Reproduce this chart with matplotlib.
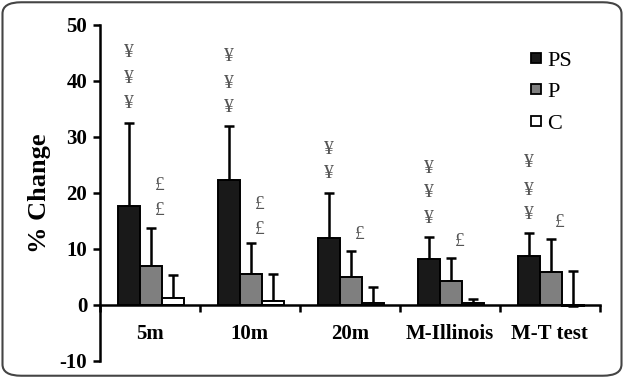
import numpy as np
import matplotlib
matplotlib.use("Agg")
import matplotlib.pyplot as plt
from matplotlib.patches import FancyBboxPatch
from matplotlib.lines import Line2D

plt.rcParams["font.family"] = ["Liberation Serif", "DejaVu Serif"]
plt.rcParams["axes.unicode_minus"] = False

categories = ["5m", "10m", "20m", "M-Illinois", "M-T test"]
ps_mean = [17.7, 22.3, 11.9, 8.2, 8.8]
ps_err = [14.8, 9.7, 8.1, 3.9, 4.1]
p_mean = [7.0, 5.5, 5.0, 4.2, 5.8]
p_err = [6.8, 5.6, 4.7, 4.2, 5.9]
c_mean = [1.2, 0.8, 0.4, 0.3, -0.2]
c_err = [4.1, 4.7, 2.8, 0.8, 6.3]

# y positions of significance marks above PS (¥) and P (£) bars
yen_pos = [[45.0, 40.4, 36.0], [44.3, 39.6, 35.2], [27.7, 23.4], [24.3, 20.0, 15.5], [25.4, 20.4, 16.1]]
pound_pos = [[21.4, 16.8], [17.9, 13.5], [12.5], [11.4], [14.8]]

fig = plt.figure(figsize=(6.24, 3.78), dpi=100)
ax = fig.add_axes([0.160, 0.045, 0.801, 0.889])

x = np.arange(1, len(categories) + 1)
w = 0.22
offs = [-0.22, 0.0, 0.22]
colors = ["#191919", "#7f7f7f", "white"]
labels = ["PS", "P", "C"]
means = [ps_mean, p_mean, c_mean]
errs = [ps_err, p_err, c_err]
for k in range(3):
    xe = x + offs[k] + 0.01
    ax.bar(xe, means[k], w, color=colors[k], edgecolor="black", linewidth=1.4,
           label=labels[k], zorder=2)
    ax.errorbar(xe, means[k], yerr=[np.zeros(5), errs[k]], fmt="none",
                ecolor="black", elinewidth=1.8, capsize=3.5, capthick=1.8, zorder=1)

for i in range(5):
    for yv in yen_pos[i]:
        ax.text(x[i] + offs[0] + 0.01, yv, "¥", ha="center", va="center",
                fontsize=14, color="#555555")
    for yv in pound_pos[i]:
        ax.text(x[i] + offs[1] + 0.1, yv, "£", ha="center", va="center",
                fontsize=14, color="#555555")

ax.set_xlim(0.5, 5.5)
ax.set_ylim(-10, 50)
ax.set_yticks([-10, 0, 10, 20, 30, 40, 50])
ax.spines["top"].set_visible(False)
ax.spines["right"].set_visible(False)
ax.spines["bottom"].set_position(("data", 0))
for s in ["left", "bottom"]:
    ax.spines[s].set_linewidth(1.8)
ax.tick_params(axis="y", direction="out", length=5, width=1.8, labelsize=15, pad=4)
for t in ax.get_yticklabels():
    t.set_fontweight("bold")

ax.set_xticks(x)
ax.set_xticklabels(categories, fontweight="bold", fontsize=15)
ax.tick_params(axis="x", which="major", length=0, pad=14)
ax.set_xticks(np.arange(0.5, 6.0, 1.0), minor=True)
ax.tick_params(axis="x", which="minor", direction="out", length=5, width=1.8)

ax.set_ylabel("% Change", fontsize=19, fontweight="bold", labelpad=6)

handles = [Line2D([0], [0], linestyle="none", marker="s", markersize=6.5,
                  markerfacecolor=colors[k], markeredgecolor="black",
                  markeredgewidth=1.3, label=labels[k]) for k in range(3)]
ax.legend(handles=handles, loc="upper right", bbox_to_anchor=(0.985, 0.985), frameon=False,
          fontsize=16, handlelength=0.5, handletextpad=0.25, labelspacing=0.5)

border = FancyBboxPatch((0.004, 0.006), 0.992, 0.988, boxstyle="round,pad=0,rounding_size=0.03",
                        transform=fig.transFigure, fill=False, edgecolor="#444444",
                        linewidth=1.5)
fig.patches.append(border)

fig.savefig("out.png", dpi=100)
